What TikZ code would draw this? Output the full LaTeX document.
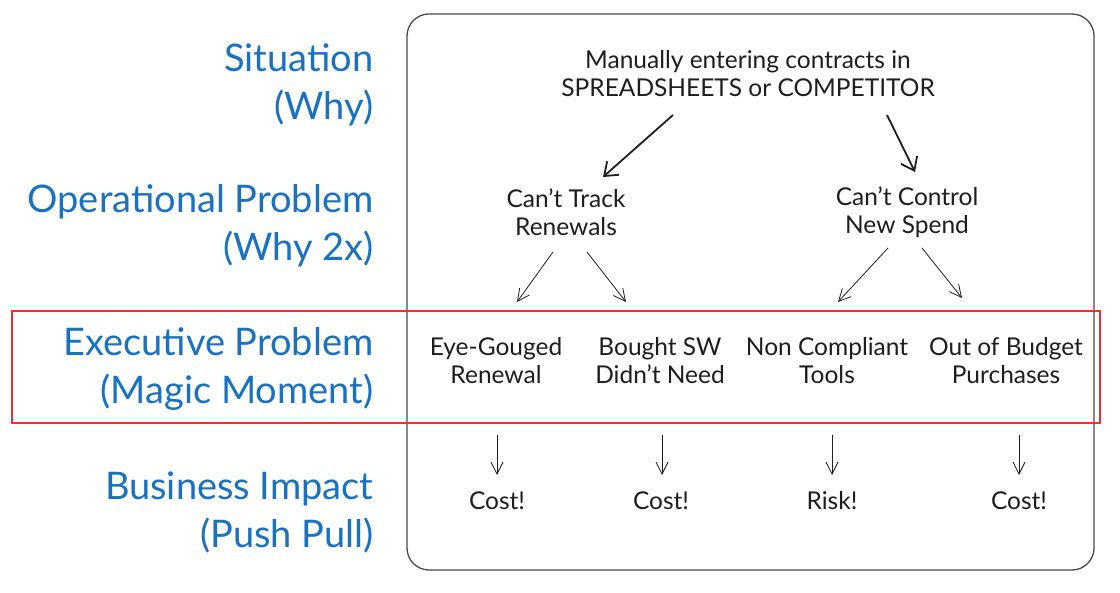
\documentclass[tikz,border=0pt]{standalone}
\usepackage{fontspec}
\setmainfont{Lato}
\usetikzlibrary{arrows.meta,calc}
\definecolor{lblblue}{RGB}{25,113,194}
\definecolor{boxred}{RGB}{228,52,48}
\definecolor{ink}{RGB}{30,30,30}
\tikzset{
  lbl/.style={anchor=east,align=right,text=lblblue,font=\fontsize{38}{48}\selectfont},
  txt/.style={align=center,text=ink,font=\fontsize{24.5}{28}\selectfont},
  arrbig/.style={draw=ink,line width=1.8pt,-{Straight Barb[length=12pt,width=18pt,line width=1.8pt]}},
  arrsmall/.style={draw=ink,line width=0.8pt,-{Straight Barb[length=12pt,width=12pt,line width=0.8pt]}},
}
\begin{document}
\begin{tikzpicture}[x=1pt,y=-1pt]
\useasboundingbox (0,0) rectangle (1120,593);
\fill[white] (0,0) rectangle (1120,593);
% frames
\draw[ink!80,line width=1.3pt,rounded corners=22pt] (407,14) rectangle (1094,570);
\draw[boxred,line width=2.6pt] (12,311) rectangle (1100,423);
% left labels
\node[lbl] (sit) at (377,85) {Situation\\(Why)};
\node[lbl] (op) at (377,226) {Operational Problem\\(Why 2x)};
\node[lbl] (ex) at (377,369) {Executive Problem\\(Magic Moment)};
\node[lbl] (bi) at (377,512) {Business Impact\\(Push Pull)};
% tree
\node[txt] (top) at (748,74) {Manually entering contracts in\\SPREADSHEETS or COMPETITOR};
\node[txt] (track) at (566,212) {Can't Track\\Renewals};
\node[txt] (ctrl) at (907,212) {Can't Control\\New Spend};
\node[txt] (eye) at (496,361) {Eye-Gouged\\Renewal};
\node[txt] (sw) at (660,361) {Bought SW\\Didn't Need};
\node[txt] (nc) at (827,361) {Non Compliant\\Tools};
\node[txt] (oob) at (1006,361) {Out of Budget\\Purchases};
\node[txt] (c1) at (497,501) {Cost!};
\node[txt] (c2) at (661,501) {Cost!};
\node[txt] (r3) at (832,501) {Risk!};
\node[txt] (c4) at (1019,501) {Cost!};
% arrows
\draw[arrbig] ($(top.center)+(-75,41)$) -- ($(track.center)+(37,-35)$);
\draw[arrbig] ($(top.center)+(139,41)$) -- ($(ctrl.center)+(8,-40)$);
\draw[arrsmall] ($(track.center)+(-13,40)$) -- ($(eye.center)+(21,-59)$);
\draw[arrsmall] ($(track.center)+(21,40)$) -- ($(sw.center)+(-34,-59)$);
\draw[arrsmall] ($(ctrl.center)+(-19,36)$) -- ($(nc.center)+(11,-59)$);
\draw[arrsmall] ($(ctrl.center)+(15,36)$) -- ($(oob.center)+(-44,-63)$);
\draw[arrsmall] ($(eye.center)+(1,74)$) -- ($(c1.center)+(0,-26)$);
\draw[arrsmall] ($(sw.center)+(2,74)$) -- ($(c2.center)+(1,-26)$);
\draw[arrsmall] ($(nc.center)+(5,74)$) -- ($(r3.center)+(0,-26)$);
\draw[arrsmall] ($(oob.center)+(13,74)$) -- ($(c4.center)+(0,-26)$);
\end{tikzpicture}
\end{document}
